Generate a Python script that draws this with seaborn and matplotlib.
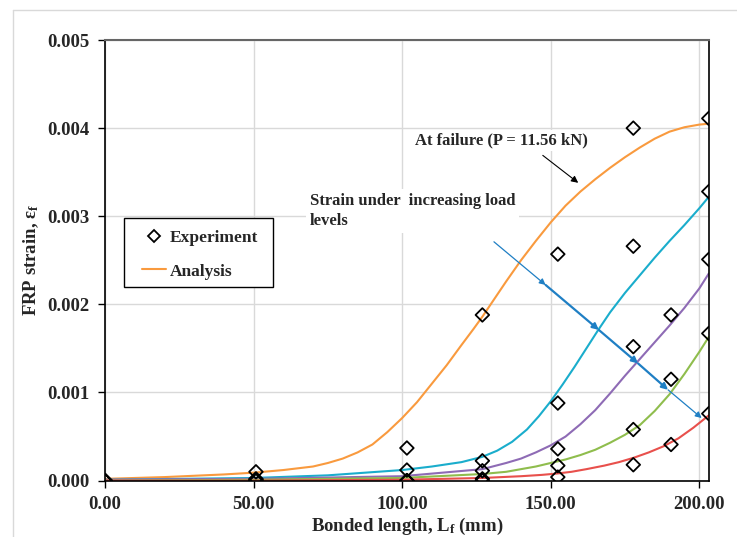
import numpy as np
import pandas as pd
import matplotlib
matplotlib.use("Agg")
import matplotlib.pyplot as plt
from matplotlib.lines import Line2D
from matplotlib.patches import Rectangle
import seaborn as sns

# --- данные ---
gauge_x = [0.0, 50.8, 101.6, 127.0, 152.4, 177.8, 190.5, 203.2]
exp_failure = [0.0, 0.0001, 0.00037, 0.00188, 0.00257, 0.00400, np.nan, 0.00411]
exp_level4 = [0.0, 0.00002, 0.00012, 0.000225, 0.00088, 0.00266, np.nan, 0.00328]
exp_level3 = [0.0, 0.00001, 0.0, 0.000112, 0.00036, 0.00152, 0.00188, 0.00251]
exp_level2 = [0.0, 0.0, 0.0, 0.00002, 0.00017, 0.00058, 0.00115, 0.00167]
exp_level1 = [0.0, 0.0, 0.0, 0.0, 0.00004, 0.00018, 0.00041, 0.00076]

fail_x = [0, 20, 40, 50, 60, 70, 75, 80, 85, 90, 95, 100, 105, 110, 115, 120, 124,
          127, 131, 135, 140, 145, 150, 155, 160, 165, 170, 175, 180, 185, 190, 195,
          200, 203.2]
fail_y = [0.00002, 0.00004, 0.00007, 0.00009, 0.00012, 0.00016, 0.0002, 0.00025,
          0.00032, 0.00041, 0.00055, 0.00071, 0.00089, 0.0011, 0.00131, 0.00154,
          0.00172, 0.00186, 0.00206, 0.00226, 0.0025, 0.00272, 0.00293, 0.00312,
          0.00328, 0.00342, 0.00355, 0.00367, 0.00378, 0.00388, 0.00396, 0.00401,
          0.00404, 0.00405]

lvl4_x = [0, 50, 75, 100, 110, 120, 127, 132, 137, 142, 146, 150, 154, 158, 162,
          166, 170, 175, 180, 185, 190, 195, 200, 203.2]
lvl4_y = [0.00001, 0.00003, 0.00006, 0.00012, 0.00016, 0.00021, 0.00027, 0.00034,
          0.00044, 0.00058, 0.00073, 0.0009, 0.00109, 0.00129, 0.0015, 0.00171,
          0.00191, 0.00213, 0.00233, 0.00253, 0.00272, 0.0029, 0.00309, 0.00322]

lvl3_x = [0, 50, 100, 127, 135, 140, 145, 150, 155, 160, 165, 170, 175, 180, 185,
          190, 195, 200, 203.2]
lvl3_y = [0.00001, 0.00002, 0.00005, 0.00013, 0.0002, 0.00025, 0.00032, 0.0004,
          0.0005, 0.00064, 0.0008, 0.00099, 0.00119, 0.00138, 0.00157, 0.00176,
          0.00196, 0.00218, 0.00235]

lvl2_x = [0, 50, 100, 127, 135, 140, 145, 150, 155, 160, 165, 170, 175, 180, 185,
          190, 195, 200, 203.2]
lvl2_y = [0.0, 0.00001, 0.00003, 0.000075, 0.0001, 0.00013, 0.00016, 0.0002,
          0.00024, 0.00029, 0.00035, 0.00043, 0.00052, 0.00063, 0.00079, 0.00098,
          0.00121, 0.00146, 0.00163]

lvl1_x = [0, 50, 100, 127, 140, 147, 152, 157, 162, 168, 173, 178, 183, 188, 193,
          198, 203.2]
lvl1_y = [0.0, 0.0, 0.00001, 0.00003, 0.00005, 0.000065, 0.00008, 0.0001, 0.00013,
          0.00017, 0.00021, 0.00026, 0.00032, 0.00039, 0.00048, 0.0006, 0.00074]

x_ticks = [0, 50, 100, 150, 200]
y_ticks = [0.0, 0.001, 0.002, 0.003, 0.004, 0.005]

# путь синей стрелки "рост нагрузки"
load_arrow_x = [130.9, 148.3, 166.2, 179.4, 189.5, 200.8]
load_arrow_y = [0.00271, 0.00222, 0.00171, 0.00133, 0.00103, 0.00071]

colors = {"failure": "#f99a3e", "level4": "#1aadcc", "level3": "#8e6bb5",
          "level2": "#8fbd4d", "level1": "#e8504c"}

# --- стиль ---
sns.set_theme(style="whitegrid")
plt.rcParams.update({
    "font.family": ["Liberation Serif", "DejaVu Serif"],
    "font.weight": "bold",
    "font.size": 13.5,
    "mathtext.fontset": "custom",
    "mathtext.rm": "Liberation Serif:bold",
    "mathtext.bf": "Liberation Serif:bold",
    "mathtext.it": "Liberation Serif:bold:italic",
    "axes.labelweight": "bold",
})

curves = pd.concat([
    pd.DataFrame({"x": fail_x, "y": fail_y, "level": "failure"}),
    pd.DataFrame({"x": lvl4_x, "y": lvl4_y, "level": "level4"}),
    pd.DataFrame({"x": lvl3_x, "y": lvl3_y, "level": "level3"}),
    pd.DataFrame({"x": lvl2_x, "y": lvl2_y, "level": "level2"}),
    pd.DataFrame({"x": lvl1_x, "y": lvl1_y, "level": "level1"}),
])
exp = pd.concat([
    pd.DataFrame({"x": gauge_x, "y": s})
    for s in [exp_failure, exp_level4, exp_level3, exp_level2, exp_level1]
]).dropna()

fig, ax = plt.subplots(figsize=(7.37, 5.37), dpi=100)
fig.subplots_adjust(left=0.1425, right=0.9625, top=0.9255, bottom=0.105)

sns.lineplot(data=curves, x="x", y="y", hue="level", palette=colors,
             estimator=None, sort=False, linewidth=1.5, legend=False, ax=ax,
             zorder=2, solid_joinstyle="round", solid_capstyle="round")
sns.scatterplot(data=exp, x="x", y="y", marker="D", s=48, fc="none", ec="black",
                linewidth=1.3, legend=False, ax=ax, zorder=4)

ax.set_xlim(0, 203.4)
ax.set_ylim(0, 0.005)
ax.set_xticks(x_ticks)
ax.set_yticks(y_ticks)
ax.set_xticklabels([f"{v:.2f}" for v in x_ticks])
ax.set_yticklabels([f"{v:.3f}" for v in y_ticks])
ax.tick_params(axis="both", direction="out", length=5, width=1, color="black",
               labelsize=13.5, pad=6, bottom=True, left=True)
ax.grid(True, color="#d9d9d9", linewidth=1)
for side in ["left", "bottom", "right"]:
    ax.spines[side].set_color("black")
    ax.spines[side].set_linewidth(1.2)
ax.spines["top"].set_color("#666666")
ax.spines["top"].set_linewidth(1.5)

ax.set_xlabel("Bonded length, L$_\\mathregular{f}$ (mm)", fontsize=13.5, labelpad=2)
ax.set_ylabel("FRP strain, ε$_\\mathregular{f}$", fontsize=13.5, labelpad=5)

# подписи
ax.text(104.2, 0.00386, "At failure (P = 11.56 kN)", fontsize=12, fontweight="bold",
        ha="left", va="center", bbox=dict(fc="white", ec="none", pad=2), zorder=3)
ax.annotate("", xy=(160.0, 0.00336), xytext=(146.6, 0.00371),
            arrowprops=dict(arrowstyle="-|>", color="black", lw=0.8,
                            mutation_scale=10), zorder=5)
ax.text(68.9, 0.00306, "Strain under  increasing load\nlevels", fontsize=12,
        fontweight="bold", ha="left", va="center", linespacing=1.3,
        bbox=dict(fc="white", ec="none", pad=3), zorder=3)

seg_lw = [0.9, 1.6, 1.6, 1.6, 0.9]
for i in range(len(load_arrow_x) - 1):
    ax.annotate("", xy=(load_arrow_x[i + 1], load_arrow_y[i + 1]),
                xytext=(load_arrow_x[i], load_arrow_y[i]),
                arrowprops=dict(arrowstyle="-|>", color="#1f7fc4", lw=seg_lw[i],
                                mutation_scale=9, shrinkA=0, shrinkB=0),
                zorder=5)

# легенда: рамка рисуется отдельно, чтобы поля были как в оригинале
ax.add_patch(Rectangle((0.0315, 0.44), 0.2465, 0.156, transform=ax.transAxes,
                       fc="white", ec="black", lw=1.0, zorder=6))
handles = [
    Line2D([], [], marker="D", linestyle="none", markersize=6.5, mfc="none",
           mec="black", mew=1.3, label="Experiment"),
    Line2D([], [], color=colors["failure"], lw=1.5, label="Analysis"),
]
leg = ax.legend(handles=handles, loc="upper left", bbox_to_anchor=(0.062, 0.569),
                borderaxespad=0, borderpad=0, frameon=False,
                prop={"family": "Liberation Serif", "weight": "bold", "size": 12.5},
                handlelength=1.35, handletextpad=0.2, labelspacing=1.0)
leg.set_zorder(7)

# рамка области диаграммы (обрезана справа и снизу)
fig.add_artist(Line2D([13 / 737, 13 / 737], [0, 1 - 10 / 537], color="#d9d9d9", lw=1))
fig.add_artist(Line2D([13 / 737, 1], [1 - 10 / 537, 1 - 10 / 537], color="#d9d9d9", lw=1))

fig.savefig("out.png", dpi=100)
